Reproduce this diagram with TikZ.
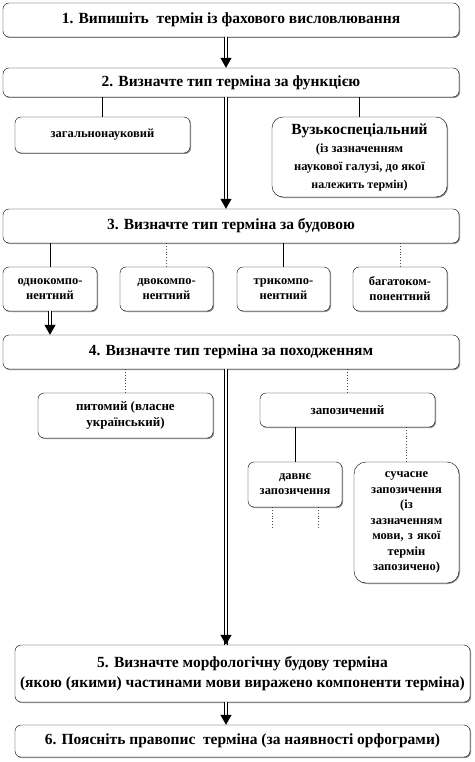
\documentclass[tikz,border=0pt]{standalone}
\usepackage{fontspec}
\setmainfont{Liberation Serif}
\usetikzlibrary{arrows.meta,shadows}

\begin{document}
\begin{tikzpicture}[
    x=1pt,
    y=-1pt,
    box/.style={
        draw=black,
        fill=white,
        rounded corners=6pt,
        inner sep=1pt,
        align=center,
        font=\bfseries\fontsize{15.5}{18}\selectfont,
        drop shadow={shadow xshift=1pt,shadow yshift=-1pt,fill=black!45,opacity=1}
    },
    small/.style={
        box,
        font=\bfseries\fontsize{12.5}{15}\selectfont
    },
    dbl/.style={
        double,
        double distance=1.3pt,
        line width=1.1pt
    },
    dblarr/.style={
        dbl,
        -{Triangle[width=11pt,length=10pt]}
    },
    lnk/.style={
        draw=black,
        line width=0.6pt
    },
    dlnk/.style={
        draw=black!70,
        line width=0.8pt,
        dotted
    }
]

    \useasboundingbox (0,0) rectangle (474,762);

    % main steps
    \node[box, minimum width=456pt, minimum height=34pt]
        (step1) at (231,20)
        {1. Випишіть \ термін із фахового висловлювання};

    \node[box, minimum width=456pt, minimum height=29pt]
        (step2) at (231,82.5)
        {2. Визначте тип терміна за функцією};

    \node[box, minimum width=456pt, minimum height=34pt]
        (step3) at (231,226)
        {3. Визначте тип терміна за будовою};

    \node[box, minimum width=456pt, minimum height=34pt]
        (step4) at (231,352)
        {4. Визначте тип терміна за походженням};

    \node[box, minimum width=455pt, minimum height=57pt,
          font=\bfseries\fontsize{15.5}{20}\selectfont]
        (step5) at (242.5,673.5)
        {5. Визначте морфологічну будову терміна\\
         (якою (якими) частинами мови виражено компоненти терміна)};

    \node[box, minimum width=455pt, minimum height=32pt]
        (step6) at (242.5,741)
        {6. Поясніть правопис \ терміна (за наявності орфограми)};

    % by function
    \node[small, minimum width=175pt, minimum height=36pt]
        (general) at (102.5,135)
        {загальнонауковий};

    \node[box, rounded corners=11pt, minimum width=175pt, minimum height=80pt,
          font=\bfseries\fontsize{15.5}{18}\selectfont]
        (special) at (359.5,157)
        {Вузькоспеціальний\\
         {\fontsize{12.5}{17}\selectfont (із зазначенням}\\
         {\fontsize{12.5}{17}\selectfont наукової галузі, до якої}\\
         {\fontsize{12}{15}\selectfont належить термін)}};

    % by structure
    \node[small, minimum width=94pt, minimum height=44pt]
        (one) at (50,289)
        {однокомпо-\\нентний};

    \node[small, minimum width=93pt, minimum height=44pt]
        (two) at (166.5,289)
        {двокомпо-\\нентний};

    \node[small, minimum width=93pt, minimum height=44pt]
        (three) at (283.5,289)
        {трикомпо-\\нентний};

    \node[small, minimum width=94pt, minimum height=44pt]
        (many) at (400,289)
        {багатоком-\\понентний};

    % by origin
    \node[small, minimum width=175pt, minimum height=45pt,
          font=\bfseries\fontsize{13}{16}\selectfont]
        (native) at (125.5,415.5)
        {питомий (власне\\український)};

    \node[small, minimum width=175pt, minimum height=34pt,
          font=\bfseries\fontsize{13}{16}\selectfont]
        (borrowed) at (347.5,410)
        {запозичений};

    \node[small, minimum width=94pt, minimum height=45pt]
        (old) at (295,484.5)
        {давнє\\запозичення};

    \node[small, rounded corners=12pt, minimum width=105pt, minimum height=121pt,
          text width=100pt, font=\bfseries\fontsize{12.5}{15.5}\selectfont]
        (modern) at (406.5,522.5)
        {сучасне\\запозичення\\(із\\зазначенням\\мови, з якої\\термін\\запозичено)};

    \coordinate (oldl) at (272,529);
    \coordinate (oldr) at (318,529);

    % arrows
    \draw[dblarr] ([xshift=-5pt]step1.south) -- ([xshift=-5pt]step2.north);
    \draw[dblarr] ([xshift=-5pt]step2.south) -- ([xshift=-5pt]step3.north);
    \draw[dblarr] (one.south) -- (one.south |- step4.north);
    \draw[dbl] ([xshift=-5pt]step4.south) -- ([xshift=-16.5pt]step5.north);
    \draw[dblarr] ([xshift=-16.5pt]step5.north |- 0,620) -- ([xshift=-16.5pt]step5.north);
    \draw[dblarr] ([xshift=-16.5pt]step5.south) -- ([xshift=-16.5pt]step6.north);

    % links
    \draw[lnk] (step2.south -| general.north) -- (general.north);
    \draw[lnk] (step2.south -| special.north) -- (special.north);
    \draw[lnk] (step3.south -| one.north) -- (one.north);
    \draw[dlnk] (step3.south -| two.north) -- (two.north);
    \draw[lnk] (step3.south -| three.north) -- (three.north);
    \draw[dlnk] (step3.south -| many.north) -- (many.north);
    \draw[dlnk] (step4.south -| native.north) -- (native.north);
    \draw[dlnk] (step4.south -| borrowed.north) -- (borrowed.north);
    \draw[lnk] (borrowed.south -| old.north) -- (old.north);
    \draw[dlnk] (borrowed.south -| modern.north) -- (modern.north);
    \draw[dlnk] (old.south -| oldl) -- (oldl);
    \draw[dlnk] (old.south -| oldr) -- (oldr);

\end{tikzpicture}
\end{document}
